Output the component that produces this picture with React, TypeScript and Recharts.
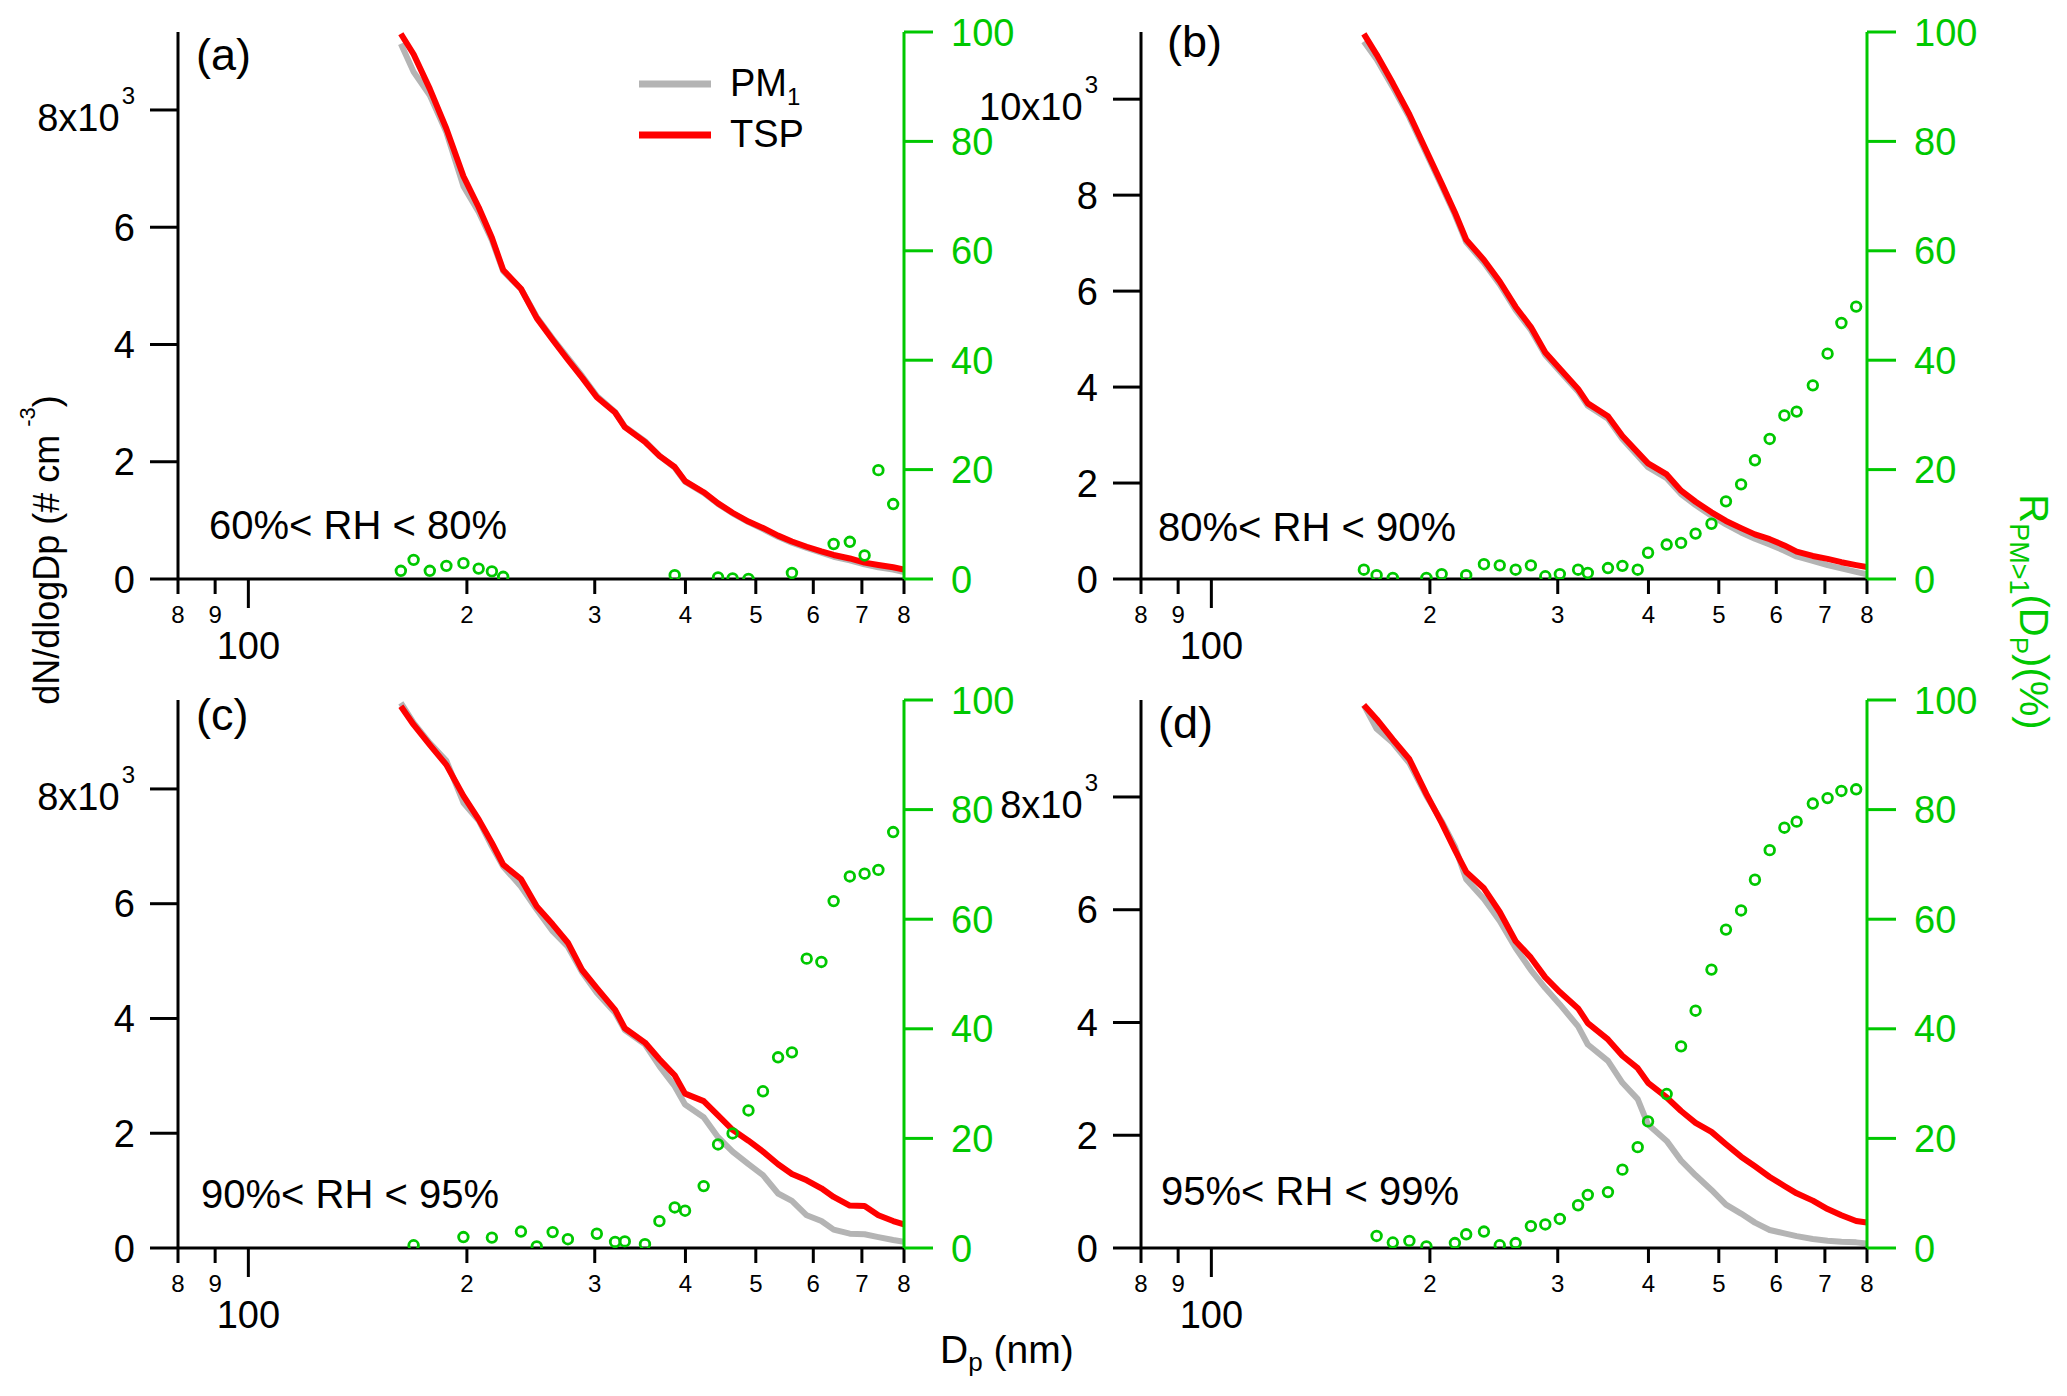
import React from 'react';
import { ComposedChart, Line, Scatter, XAxis, YAxis } from 'recharts';

// ---------- data ----------
const DP = [162.2, 168.9, 177.8, 187.4, 197.8, 207.6, 216.5, 224.4, 237.4, 249.6, 262.5, 275.5, 288.4, 302.0, 320.0, 330.0, 351.8, 368.3, 386.6, 399.5, 423.8, 443.6, 464.5, 488.5, 511.5, 536.6, 560.7, 587.6, 615.6, 640.0, 673.7, 706.0, 737.6, 773.0, 800.0];

const TSP_A = [9300, 8950, 8360, 7680, 6870, 6340, 5820, 5270, 4950, 4450, 4080, 3740, 3430, 3100, 2840, 2590, 2340, 2100, 1910, 1670, 1480, 1290, 1130, 980, 870, 740, 640, 550, 470, 410, 350, 280, 240, 200, 160];
const PM1_A = [9130, 8650, 8250, 7620, 6700, 6260, 5780, 5250, 4950, 4470, 4100, 3770, 3460, 3120, 2850, 2600, 2350, 2100, 1900, 1660, 1470, 1280, 1120, 970, 850, 720, 620, 530, 450, 380, 320, 250, 200, 160, 120];
const R_A = [1.5, 3.5, 1.5, 2.4, 2.9, 1.9, 1.4, 0.4, null, null, null, null, null, null, null, null, null, null, 0.7, null, null, 0.3, 0.1, 0.0, null, null, 1.1, null, null, 6.4, 6.8, 4.3, 19.9, 13.7, null];

const TSP_B = [11360, 10930, 10330, 9680, 8920, 8240, 7640, 7070, 6650, 6200, 5670, 5250, 4720, 4380, 3960, 3660, 3390, 2980, 2640, 2410, 2180, 1840, 1610, 1390, 1210, 1060, 930, 830, 700, 570, 480, 420, 350, 290, 250];
const PM1_B = [11200, 10830, 10250, 9620, 8870, 8190, 7590, 7020, 6590, 6140, 5610, 5190, 4670, 4330, 3910, 3610, 3340, 2920, 2570, 2330, 2100, 1770, 1540, 1320, 1140, 970, 840, 720, 590, 470, 380, 290, 220, 150, 100];
const R_B = [1.7, 0.7, 0.2, null, 0.2, 0.9, null, 0.7, 2.7, 2.5, 1.7, 2.5, 0.5, 0.9, 1.7, 1.1, 2.0, 2.4, 1.7, 4.8, 6.3, 6.6, 8.3, 10.1, 14.2, 17.3, 21.7, 25.6, 29.9, 30.6, 35.4, 41.2, 46.8, 49.8, null];

const TSP_C = [9440, 9120, 8770, 8420, 7880, 7470, 7060, 6680, 6430, 5950, 5640, 5320, 4840, 4530, 4150, 3830, 3580, 3290, 3010, 2690, 2560, 2310, 2060, 1870, 1680, 1460, 1290, 1180, 1040, 890, 740, 730, 570, 470, 410];
const PM1_C = [9500, 9150, 8800, 8490, 7760, 7450, 7000, 6650, 6300, 5900, 5520, 5250, 4800, 4450, 4100, 3800, 3550, 3170, 2820, 2500, 2280, 1930, 1680, 1460, 1270, 950, 820, 570, 470, 320, 250, 240, 190, 140, 110];
const R_C = [null, 0.5, null, null, 2.0, null, 1.9, null, 3.0, 0.3, 2.9, 1.6, null, 2.6, 1.1, 1.2, 0.7, 4.9, 7.4, 6.8, 11.3, 18.9, 20.9, 25.1, 28.6, 34.8, 35.7, 52.8, 52.2, 63.3, 67.8, 68.3, 69.0, 75.9, null];

const TSP_D = [9630, 9380, 9020, 8670, 8050, 7540, 7060, 6670, 6380, 5960, 5440, 5150, 4800, 4540, 4250, 3990, 3700, 3410, 3190, 2930, 2670, 2430, 2220, 2060, 1840, 1620, 1450, 1260, 1100, 970, 840, 690, 580, 480, 450];
const PM1_D = [9630, 9210, 8960, 8600, 8020, 7570, 7120, 6540, 6190, 5800, 5320, 4930, 4610, 4320, 3930, 3610, 3320, 2930, 2640, 2190, 1900, 1550, 1290, 1030, 770, 610, 450, 320, 260, 210, 160, 130, 110, 100, 80];
const R_D = [null, 2.2, 1.0, 1.3, 0.3, null, 0.9, 2.5, 3.0, 0.5, 0.9, 4.0, 4.3, 5.3, 7.8, 9.7, 10.2, 14.3, 18.4, 23.1, 28.1, 36.8, 43.3, 50.8, 58.1, 61.6, 67.2, 72.6, 76.7, 77.8, 81.1, 82.1, 83.4, 83.7, null];

const X_TICKS = [80, 90, 100, 200, 300, 400, 500, 600, 700, 800];
const X_TICK_LABELS = ['8', '9', '100', '2', '3', '4', '5', '6', '7', '8'];
const R_TICKS = [0, 20, 40, 60, 80, 100];
const R_TICK_LABELS = ['0', '20', '40', '60', '80', '100'];
const N_TICKS_8 = [0, 2000, 4000, 6000, 8000];
const N_TICK_LABELS_8 = [['0', ''], ['2', ''], ['4', ''], ['6', ''], ['8x10', '3']];
const N_TICKS_10 = [0, 2000, 4000, 6000, 8000, 10000];
const N_TICK_LABELS_10 = [['0', ''], ['2', ''], ['4', ''], ['6', ''], ['8', ''], ['10x10', '3']];

const PANEL_LETTERS = ['(a)', '(b)', '(c)', '(d)'];
const RH_LABELS = ['60%< RH < 80%', '80%< RH < 90%', '90%< RH < 95%', '95%< RH < 99%'];
const N_MAX = [9330, 11400, 9550, 9720];

// ---------- styles ----------
const FONT = '"Liberation Sans", Arial, Helvetica, sans-serif';
const GREEN = '#00C800';
const RED = '#FF0000';
const GREY = '#B4B4B4';

const PLOT_W = 726;
const PAD_L = 190;
const PAD_R = 170;
const PAD_T = 32;
const PAD_B = 100;
const YW = 50;
const XH = 30;

const PANELS = [
  { left: 178, top: 32, h: 547, pm1: PM1_A, tsp: TSP_A, r: R_A, ticks: N_TICKS_8, labels: N_TICK_LABELS_8, letter: [18, 38], rh: [31, 507] },
  { left: 1141, top: 32, h: 547, pm1: PM1_B, tsp: TSP_B, r: R_B, ticks: N_TICKS_10, labels: N_TICK_LABELS_10, letter: [26, 25], rh: [17, 509] },
  { left: 178, top: 700, h: 548, pm1: PM1_C, tsp: TSP_C, r: R_C, ticks: N_TICKS_8, labels: N_TICK_LABELS_8, letter: [18, 30], rh: [23, 508] },
  { left: 1141, top: 700, h: 548, pm1: PM1_D, tsp: TSP_D, r: R_D, ticks: N_TICKS_8, labels: N_TICK_LABELS_8, letter: [17, 38], rh: [20, 505] },
];

function XTick(props: any) {
  const { x, y, payload } = props;
  const i = X_TICKS.indexOf(payload.value);
  const major = payload.value === 100;
  return (
    <g>
      <line x1={x} y1={y} x2={x} y2={y + (major ? 29 : 15)} stroke="#000" strokeWidth={3} />
      <text x={x} y={y + (major ? 80 : 44)} textAnchor="middle" fontSize={major ? 38 : 24} fill="#000" fontFamily={FONT}>
        {X_TICK_LABELS[i]}
      </text>
    </g>
  );
}

function makeLeftTick(ticks: number[], labels: string[][]) {
  return (props: any) => {
    const { x, y, payload } = props;
    const i = ticks.indexOf(payload.value);
    const lab = labels[i] || ['', ''];
    return (
      <g>
        <line x1={x} y1={y} x2={x - 28} y2={y} stroke="#000" strokeWidth={3} />
        {lab[1] ? (
          <text x={x - 43} y={y + 21} textAnchor="end" fontSize={38} fill="#000" fontFamily={FONT}>
            {lab[0]}
            <tspan dx={2} dy={-27} fontSize={24}>{lab[1]}</tspan>
          </text>
        ) : (
          <text x={x - 43} y={y + 13.5} textAnchor="end" fontSize={38} fill="#000" fontFamily={FONT}>
            {lab[0]}
          </text>
        )}
      </g>
    );
  };
}

function RightTick(props: any) {
  const { x, y, payload } = props;
  const i = R_TICKS.indexOf(payload.value);
  return (
    <g>
      <line x1={x} y1={y} x2={x + 29} y2={y} stroke={GREEN} strokeWidth={3} />
      <text x={x + 47} y={y + 13.5} textAnchor="start" fontSize={38} fill={GREEN} fontFamily={FONT}>
        {R_TICK_LABELS[i]}
      </text>
    </g>
  );
}

function Circle(props: any) {
  const { cx, cy } = props;
  if (cx == null || cy == null || isNaN(cx) || isNaN(cy)) return null;
  return <circle cx={cx} cy={cy} r={4.8} fill="none" stroke={GREEN} strokeWidth={2.8} />;
}

function Panel({ p, idx }: { p: any; idx: number }) {
  const rows = DP.map((d, i) => ({ dp: d, pm1: p.pm1[i], tsp: p.tsp[i] }));
  const pts = DP.map((d, i) => ({ dp: d, ratio: p.r[i] })).filter((q) => q.ratio !== null);
  const width = PLOT_W + PAD_L + PAD_R;
  const height = p.h + PAD_T + PAD_B;
  return (
    <div style={{ position: 'absolute', left: p.left - PAD_L, top: p.top - PAD_T, width, height }}>
      <ComposedChart
        width={width}
        height={height}
        data={rows}
        margin={{ left: PAD_L - YW, right: PAD_R - YW, top: PAD_T, bottom: PAD_B - XH }}
      >
        <XAxis
          dataKey="dp"
          type="number"
          scale="log"
          domain={[80, 800]}
          allowDataOverflow
          ticks={X_TICKS}
          interval={0}
          tickSize={0}
          tickMargin={0}
          tickLine={false}
          axisLine={{ stroke: '#000', strokeWidth: 3 }}
          height={XH}
          tick={XTick}
        />
        <YAxis
          yAxisId="left"
          orientation="left"
          type="number"
          domain={[0, N_MAX[idx]]}
          allowDataOverflow
          ticks={p.ticks}
          interval={0}
          width={YW}
          tickSize={0}
          tickMargin={0}
          tickLine={false}
          axisLine={{ stroke: '#000', strokeWidth: 3 }}
          tick={makeLeftTick(p.ticks, p.labels)}
        />
        <YAxis
          yAxisId="right"
          orientation="right"
          type="number"
          domain={[0, 100]}
          allowDataOverflow
          ticks={R_TICKS}
          interval={0}
          width={YW}
          tickSize={0}
          tickMargin={0}
          tickLine={false}
          axisLine={{ stroke: GREEN, strokeWidth: 3 }}
          tick={RightTick}
        />
        <Line yAxisId="left" type="linear" dataKey="pm1" stroke={GREY} strokeWidth={6} dot={false} activeDot={false} isAnimationActive={false} strokeLinejoin="round" />
        <Line yAxisId="left" type="linear" dataKey="tsp" stroke={RED} strokeWidth={6} dot={false} activeDot={false} isAnimationActive={false} strokeLinejoin="round" />
        <Scatter yAxisId="right" data={pts} dataKey="ratio" shape={Circle} isAnimationActive={false} />
      </ComposedChart>
    </div>
  );
}

export default function App() {
  return (
    <div style={{ position: 'absolute', left: 0, top: 0, width: 2067, height: 1396, background: '#fff', fontFamily: FONT, overflow: 'hidden' }}>
      {PANELS.map((p, i) => (
        <Panel key={i} p={p} idx={i} />
      ))}
      <svg width={2067} height={1396} style={{ position: 'absolute', left: 0, top: 0, pointerEvents: 'none' }} fontFamily={FONT}>
        {PANELS.map((p, i) => (
          <g key={i}>
            <text x={p.left + p.letter[0]} y={p.top + p.letter[1]} fontSize={45} fill="#000">{PANEL_LETTERS[i]}</text>
            <text x={p.left + p.rh[0]} y={p.top + p.rh[1]} fontSize={40} fill="#000">{RH_LABELS[i]}</text>
          </g>
        ))}
        {/* legend */}
        <line x1={639} y1={84} x2={711} y2={84} stroke={GREY} strokeWidth={7} />
        <text x={730} y={96} fontSize={38} fill="#000">
          PM<tspan fontSize={24} dy={9}>1</tspan>
        </text>
        <line x1={639} y1={135} x2={711} y2={135} stroke={RED} strokeWidth={7} />
        <text x={730} y={147} fontSize={38} fill="#000">TSP</text>
        {/* left axis title */}
        <text transform="translate(59, 550) rotate(-90)" textAnchor="middle" fontSize={36} fill="#000">
          dN/dlogDp (# cm<tspan fontSize={22} dx={8} dy={-24}>-3</tspan><tspan fontSize={36} dy={24}>)</tspan>
        </text>
        {/* right axis title */}
        <text transform="translate(2020, 612) rotate(90)" textAnchor="middle" fontSize={40} fill={GREEN}>
          R<tspan fontSize={27} dy={10}>PM&gt;1</tspan><tspan fontSize={40} dy={-10}>(D</tspan><tspan fontSize={26} dy={10}>P</tspan><tspan fontSize={40} dy={-10}>)(%)</tspan>
        </text>
        {/* bottom axis title */}
        <text x={940} y={1363} fontSize={39} fill="#000">
          D<tspan fontSize={26} dy={8}>p</tspan><tspan fontSize={39} dy={-8}> (nm)</tspan>
        </text>
      </svg>
    </div>
  );
}
